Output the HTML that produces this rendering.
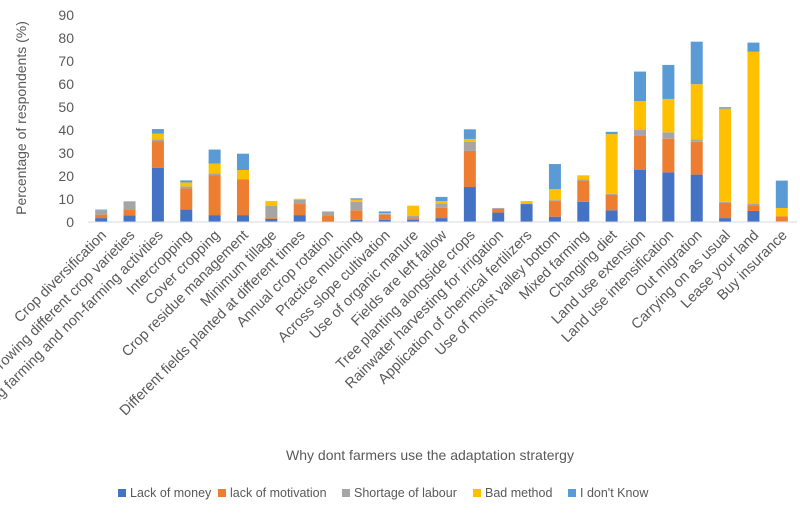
<!DOCTYPE html>
<html><head><meta charset="utf-8"><style>
body{margin:0;background:#fff;font-family:"Liberation Sans",sans-serif;}
svg text{font-family:"Liberation Sans",sans-serif;fill:#595959;}
</style></head><body>
<svg id="chart" width="800" height="515" xmlns="http://www.w3.org/2000/svg">
<g id="yaxis"></g>
<g id="bars"></g>
<g id="xlabels"></g>
<line x1="88" y1="222" x2="797" y2="222" stroke="#d9d9d9" stroke-width="1"/>
<text transform="translate(26,118) rotate(-90)" text-anchor="middle" font-size="14">Percentage of respondents (%)</text>
<text x="430" y="460" text-anchor="middle" font-size="14">Why dont farmers use the adaptation stratergy</text>
<g id="legend"></g>
</svg>
<script>
const categories=["Crop diversification","Growing different crop varieties","Mixing farming and non-farming activities","Intercropping","Cover cropping","Crop residue management","Minimum tillage","Different fields planted at different times","Annual crop rotation","Practice mulching","Across slope cultivation","Use of organic manure","Fields are left fallow","Tree planting alongside crops","Rainwater harvesting for irrigation","Application of chemical fertilizers","Use of moist valley bottom","Mixed farming","Changing diet","Land use extension","Land use intensification","Out migration","Carrying on as usual","Lease your land","Buy insurance"];
const lackOfMoney=[1.7,2.9,23.5,5.4,3.0,3.0,1.3,3.0,0.4,0.9,0.9,0.9,1.7,15.2,4.1,7.8,2.3,8.8,5.1,22.6,21.6,20.6,1.7,4.8,0.3];
const lackOfMotivation=[1.5,2.3,11.5,9.2,17.4,15.3,0.4,4.8,2.4,4.2,2.3,0.8,4.5,15.7,1.6,0,6.8,9.2,6.8,14.8,14.6,14.3,6.7,2.4,2.2];
const shortageOfLabour=[1.9,3.8,1.0,0.9,0.8,0.4,5.4,1.9,1.8,3.7,0.3,0.9,1.9,3.9,0.4,0.3,0.4,0.6,0.4,2.6,2.8,1.0,0.4,0.8,0];
const badMethod=[0,0,2.4,1.7,4.2,3.9,2.0,0.4,0,0.9,0.4,4.5,1.0,1.3,0,1.0,4.8,1.7,25.9,12.5,14.5,24.0,40.5,66.0,3.6];
const iDontKnow=[0.3,0,2.0,0.9,6.1,7.1,0,0,0,0.6,0.7,0,1.8,4.2,0,0,10.9,0,1.0,12.9,14.8,18.5,0.6,4.0,11.9];
const yTicks=[0,10,20,30,40,50,60,70,80,90];
const seriesNames=["Lack of money","lack of motivation","Shortage of labour","Bad method","I don't Know"];
const series=[lackOfMoney,lackOfMotivation,shortageOfLabour,badMethod,iDontKnow];
const colors=["#4472C4","#ED7D31","#A5A5A5","#FFC000","#5B9BD5"];
const NS="http://www.w3.org/2000/svg";
const x0=88,x1=797,yBase=222,yTop=15,yMax=90;
const step=(x1-x0)/categories.length;
function xC(i){return x0+step*(i+0.5)-1;}
function yS(v){return yBase-(v/yMax)*(yBase-yTop);}
function mk(t,a){const e=document.createElementNS(NS,t);for(const k in a)e.setAttribute(k,a[k]);return e;}
const ya=document.getElementById('yaxis');
yTicks.forEach(t=>{const e=mk('text',{x:74,y:yS(t)+5,'text-anchor':'end','font-size':14});e.textContent=t;


ya.appendChild(e);});
const bg=document.getElementById('bars');
categories.forEach((c,i)=>{let acc=0;series.forEach((s,j)=>{const v=s[i];if(v>0){const r=mk('rect',{x:xC(i)-6,y:yS(acc+v),width:12,height:yS(acc)-yS(acc+v),fill:colors[j]});


bg.appendChild(r);}acc+=v;});});
const xl=document.getElementById('xlabels');
categories.forEach((c,i)=>{const x=xC(i)+6,y=236;const e=mk('text',{x:x,y:y,'text-anchor':'end','font-size':14.5,transform:`rotate(-45 ${x} ${y})`});e.textContent=c;


xl.appendChild(e);});
const lg=document.getElementById('legend');
const lx=[118,218,342,473,568];
seriesNames.forEach((n,j)=>{const g=mk('g',{});


g.appendChild(mk('rect',{x:lx[j],y:489,width:8,height:8,fill:colors[j]}));
const t=mk('text',{x:lx[j]+12,y:497,'font-size':12.5});t.textContent=n;g.appendChild(t);lg.appendChild(g);});
</script>
</body></html>
